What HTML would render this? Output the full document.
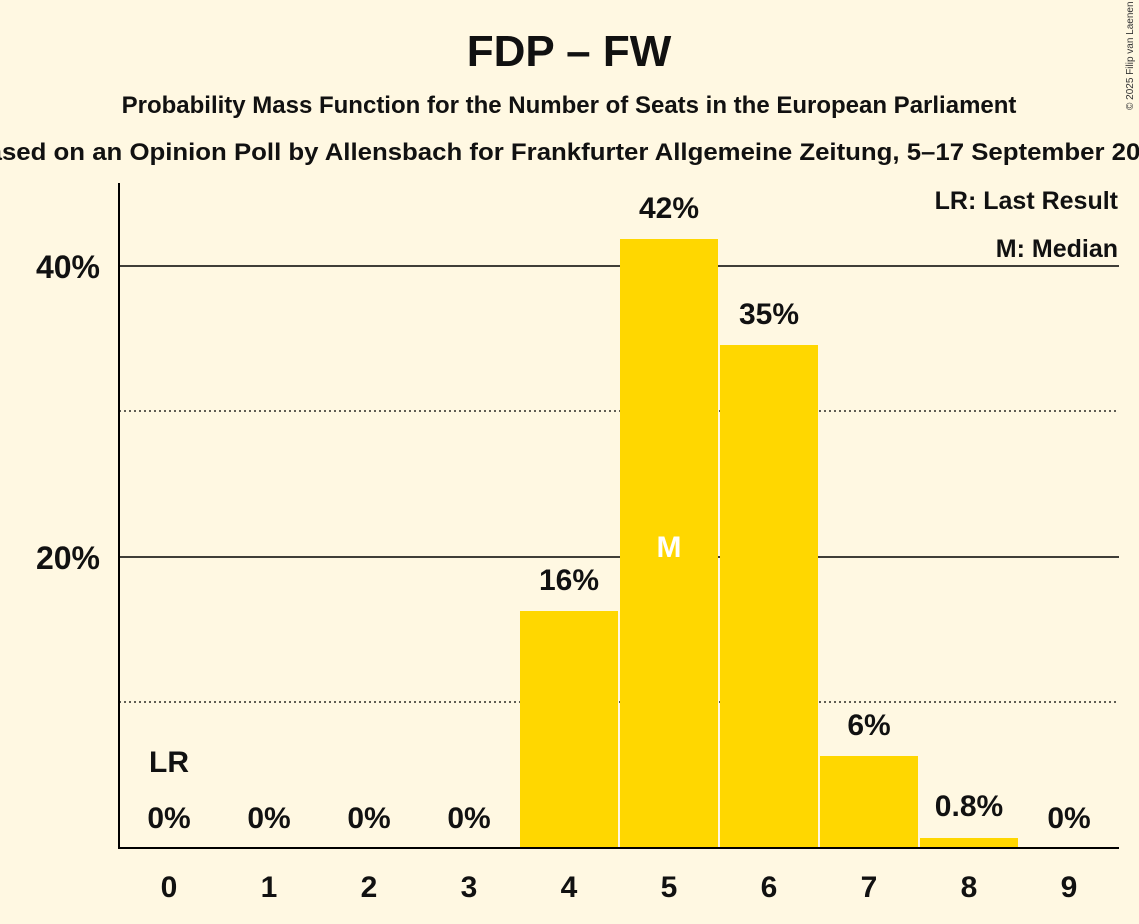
<!DOCTYPE html>
<html><head><meta charset="utf-8"><style>
html,body{margin:0;padding:0;background:#FFF8E2;}
svg{display:block;font-family:"Liberation Sans",sans-serif;}
</style></head><body>
<svg width="1139" height="924" viewBox="0 0 1139 924" xmlns="http://www.w3.org/2000/svg">
<rect width="1139" height="924" fill="#FFF8E2"/>
<text x="569" y="66" text-anchor="middle" font-size="44" font-weight="bold" fill="#111">FDP – FW</text>
<text x="569" y="113" text-anchor="middle" font-size="24" font-weight="bold" fill="#111">Probability Mass Function for the Number of Seats in the European Parliament</text>
<text x="-31" y="160" font-size="24" font-weight="bold" fill="#111" textLength="1200" lengthAdjust="spacingAndGlyphs">Based on an Opinion Poll by Allensbach for Frankfurter Allgemeine Zeitung, 5–17 September 2024</text>
<text x="1133" y="110" font-size="10" fill="#333" transform="rotate(-90 1133 110)">© 2025 Filip van Laenen</text>
<line x1="119" y1="266" x2="1119" y2="266" stroke="#000" stroke-width="1.5"/>
<line x1="119" y1="557" x2="1119" y2="557" stroke="#000" stroke-width="1.5"/>
<line x1="119" y1="411" x2="1119" y2="411" stroke="#000" stroke-width="1.2" stroke-dasharray="2,3"/>
<line x1="119" y1="702" x2="1119" y2="702" stroke="#000" stroke-width="1.2" stroke-dasharray="2,3"/>
<g fill="#FFD700">
<rect x="520" y="611" width="98" height="237"/>
<rect x="620" y="239" width="98" height="609"/>
<rect x="720" y="345" width="98" height="503"/>
<rect x="820" y="756" width="98" height="92"/>
<rect x="920" y="838" width="98" height="10"/>
</g>
<line x1="119" y1="183" x2="119" y2="849" stroke="#000" stroke-width="2"/>
<line x1="118" y1="848" x2="1119" y2="848" stroke="#000" stroke-width="2"/>
<g font-size="32" font-weight="bold" fill="#111" text-anchor="end">
<text x="100" y="278">40%</text>
<text x="100" y="569">20%</text>
</g>
<g font-size="30" font-weight="bold" fill="#111" text-anchor="middle">
<text x="169" y="897">0</text><text x="269" y="897">1</text><text x="369" y="897">2</text>
<text x="469" y="897">3</text><text x="569" y="897">4</text><text x="669" y="897">5</text>
<text x="769" y="897">6</text><text x="869" y="897">7</text><text x="969" y="897">8</text>
<text x="1069" y="897">9</text>
</g>
<g font-size="30" font-weight="bold" fill="#111" text-anchor="middle">
<text x="169" y="828">0%</text><text x="269" y="828">0%</text><text x="369" y="828">0%</text>
<text x="469" y="828">0%</text><text x="569" y="590">16%</text><text x="669" y="218">42%</text>
<text x="769" y="324">35%</text><text x="869" y="735">6%</text><text x="969" y="816">0.8%</text>
<text x="1069" y="828">0%</text>
<text x="169" y="772">LR</text>
<text x="669" y="557" fill="#fff">M</text>
</g>
<g font-size="25" font-weight="bold" fill="#111" text-anchor="end">
<text x="1118" y="209">LR: Last Result</text>
<text x="1118" y="257">M: Median</text>
</g>
</svg>
</body></html>
